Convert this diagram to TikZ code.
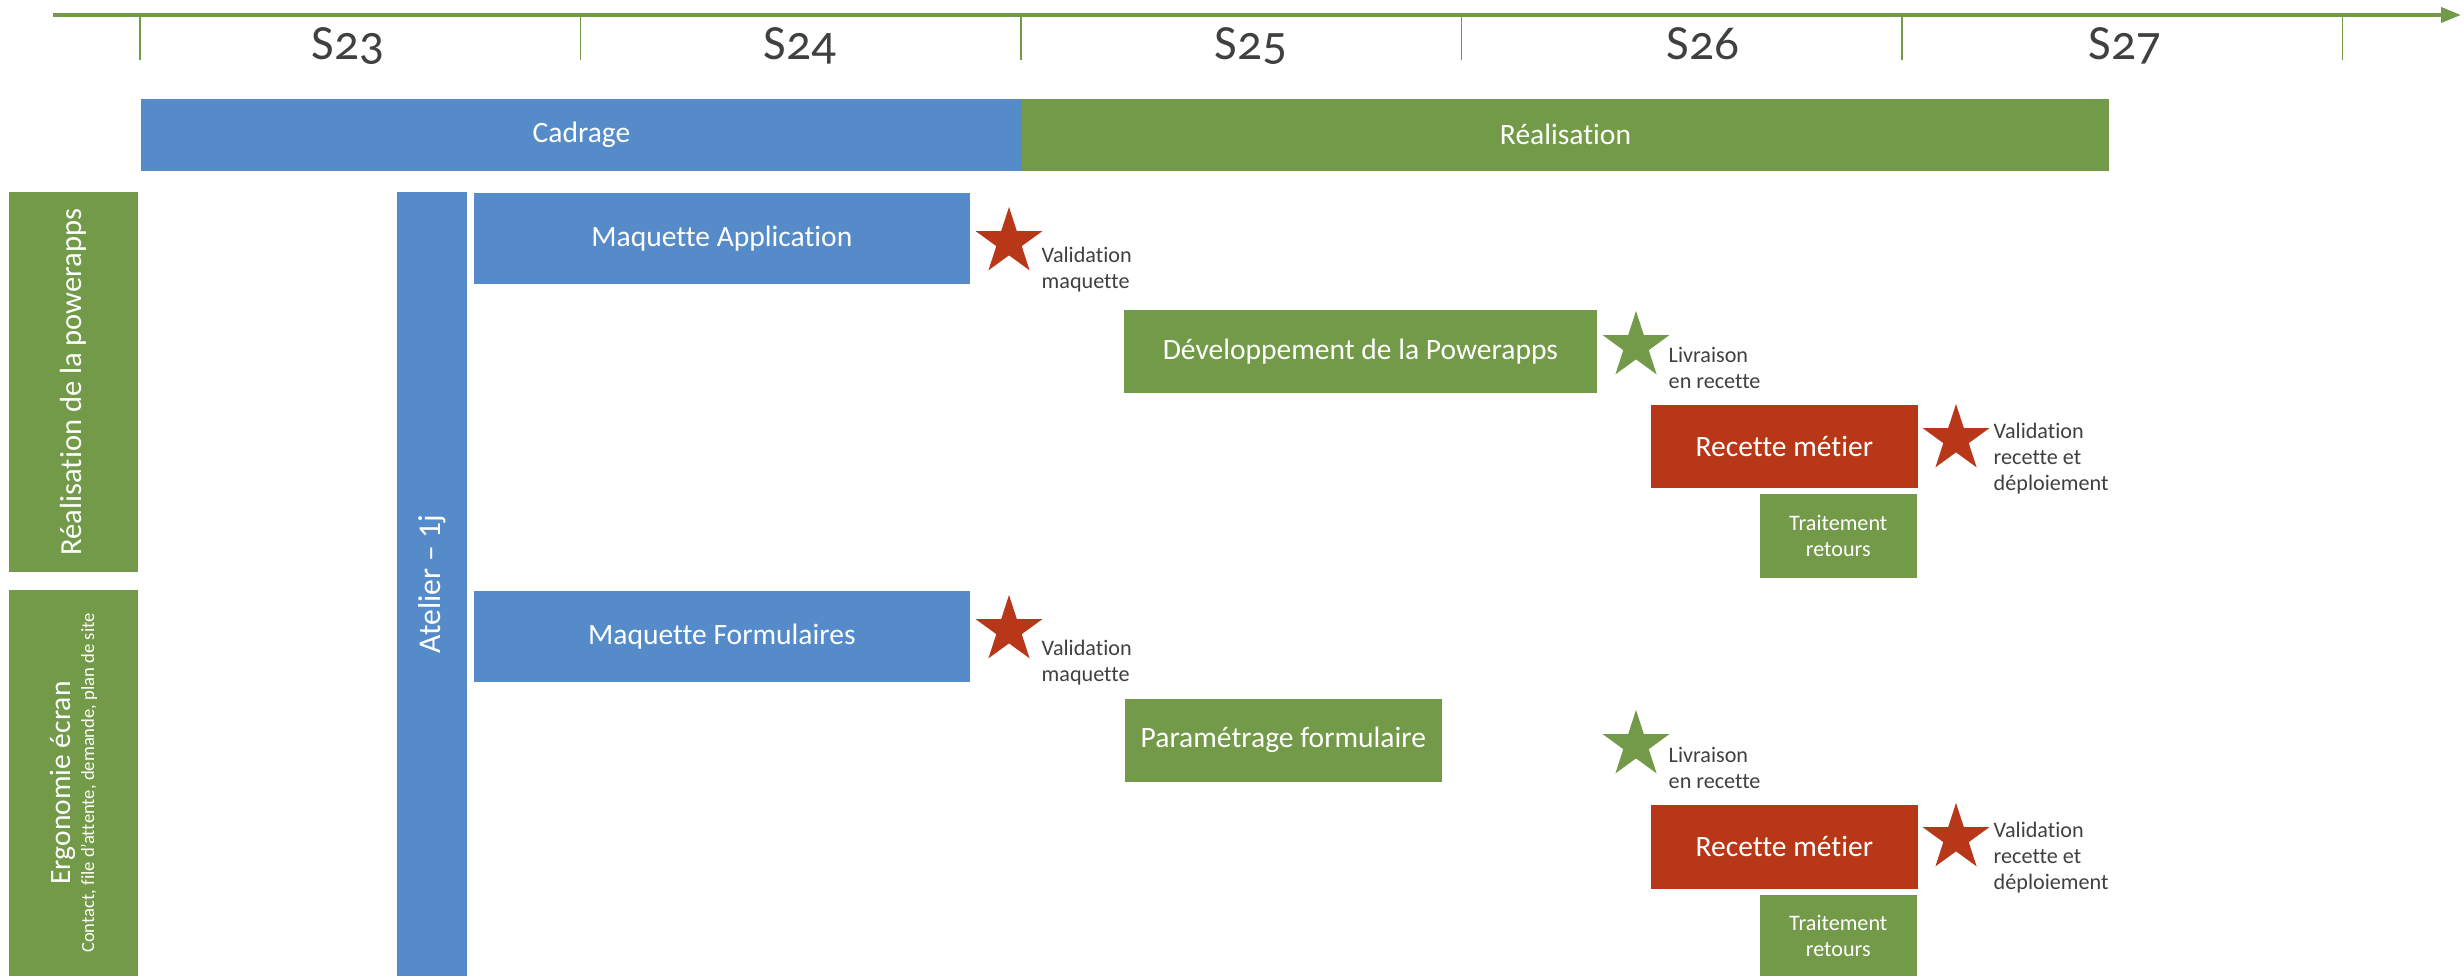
\documentclass[tikz,border=0pt]{standalone}
\usepackage{fontspec}
\setmainfont{Carlito}[Ligatures=CommonOff]
\newfontfamily\weekfont{Carlito}[Numbers=OldStyle,Ligatures=CommonOff]
\usetikzlibrary{shapes.geometric,arrows.meta}
\definecolor{planblue}{RGB}{86,139,202}
\definecolor{plangreen}{RGB}{114,154,72}
\definecolor{planred}{RGB}{184,55,24}
\definecolor{plangrey}{RGB}{64,64,64}

\begin{document}
\begin{tikzpicture}[x=0.01cm,y=-0.01cm,
    task/.style={rectangle,inner sep=0pt,anchor=north west,text=white,align=center,
                 font=\fontsize{8.4}{10}\selectfont},
    small/.style={font=\fontsize{6.3}{7.4}\selectfont},
    milestone/.style={star,star points=5,star point ratio=2.618,minimum size=0.7cm,inner sep=0pt},
    week/.style={anchor=base,text=plangrey,font=\weekfont\fontsize{14}{16}\selectfont}]
  \tikzstyle{note}=[anchor=west,align=left,inner sep=0pt,text=plangrey,
                    font=\fontsize{6.3}{7.4}\selectfont]

  \useasboundingbox (0,0) rectangle (2464,976);

  % weeks
  \draw[plangreen,line width=1.1pt,-{Triangle[length=0.2cm,width=0.15cm]}] (53,15) -- (2461,15);
  \foreach \x in {140,580.5,1021,1461.5,1902,2342.5}
    \draw[plangreen,line width=0.4pt] (\x,15) -- (\x,60);
  \foreach \w/\x in {23/348,24/800,25/1251,26/1703,27/2125}
    \node[week] (s\w) at (\x,60) {S\w};

  % phases
  \node[task,fill=planblue,minimum width=8.81cm,minimum height=0.72cm]  (cadrage)     at (140,98)  {Cadrage};
  \node[task,fill=plangreen,minimum width=10.87cm,minimum height=0.72cm] (realisation) at (1021,98) {Réalisation};

  % lanes
  \node[task,fill=plangreen,rotate=90,anchor=center,minimum width=3.80cm,minimum height=1.29cm,
        font=\fontsize{8.7}{10}\selectfont] (lane1) at (73.5,382) {Réalisation de la powerapps};
  \node[task,fill=plangreen,rotate=90,anchor=center,minimum width=3.86cm,minimum height=1.29cm,
        font=\fontsize{8.4}{6.8}\selectfont] (lane2) at (73.5,783)
        {Ergonomie écran\\{\fontsize{5.3}{6.8}\selectfont Contact, file d’attente, demande, plan de site}};
  \node[task,fill=planblue,rotate=90,anchor=center,minimum width=7.84cm,minimum height=0.70cm,
        font=\fontsize{9}{10}\selectfont] (atelier) at (432,584) {Atelier – 1j};

  % powerapps
  \node[task,fill=planblue,minimum width=4.96cm,minimum height=0.91cm]  (maqapp)   at (473,192)  {Maquette Application};
  \node[task,fill=plangreen,minimum width=4.73cm,minimum height=0.83cm] (dev)      at (1123,309) {Développement de la Powerapps};
  \node[task,fill=planred,minimum width=2.67cm,minimum height=0.83cm]   (recette1) at (1650,404) {Recette métier};
  \node[task,fill=plangreen,small,minimum width=1.57cm,minimum height=0.84cm] (retours1) at (1759,493) {Traitement\\retours};

  \node[milestone,fill=planred]   (valmaq1) at (1009,242) {};
  \node[note] (valmaq1txt) at (1041,270) {Validation\\maquette};
  \node[milestone,fill=plangreen] (livr1)   at (1636,346) {};
  \node[note] (livr1txt) at (1668,368) {Livraison\\en recette};
  \node[milestone,fill=planred]   (valrec1) at (1956,439) {};
  \node[note] (valrec1txt) at (1993,459) {Validation\\recette et\\déploiement};

  % ergonomie
  \node[task,fill=planblue,minimum width=4.96cm,minimum height=0.91cm]  (maqform)  at (473,590)  {Maquette Formulaires};
  \node[task,fill=plangreen,minimum width=3.17cm,minimum height=0.83cm] (param)    at (1124,698) {Paramétrage formulaire};
  \node[task,fill=planred,minimum width=2.67cm,minimum height=0.84cm]   (recette2) at (1650,804) {Recette métier};
  \node[task,fill=plangreen,small,minimum width=1.57cm,minimum height=0.82cm] (retours2) at (1759,894) {Traitement\\retours};

  \node[milestone,fill=planred]   (valmaq2) at (1009,630) {};
  \node[note] (valmaq2txt) at (1041,663) {Validation\\maquette};
  \node[milestone,fill=plangreen] (livr2)   at (1636,745) {};
  \node[note] (livr2txt) at (1668,768) {Livraison\\en recette};
  \node[milestone,fill=planred]   (valrec2) at (1956,838) {};
  \node[note] (valrec2txt) at (1993,858) {Validation\\recette et\\déploiement};
\end{tikzpicture}
\end{document}
